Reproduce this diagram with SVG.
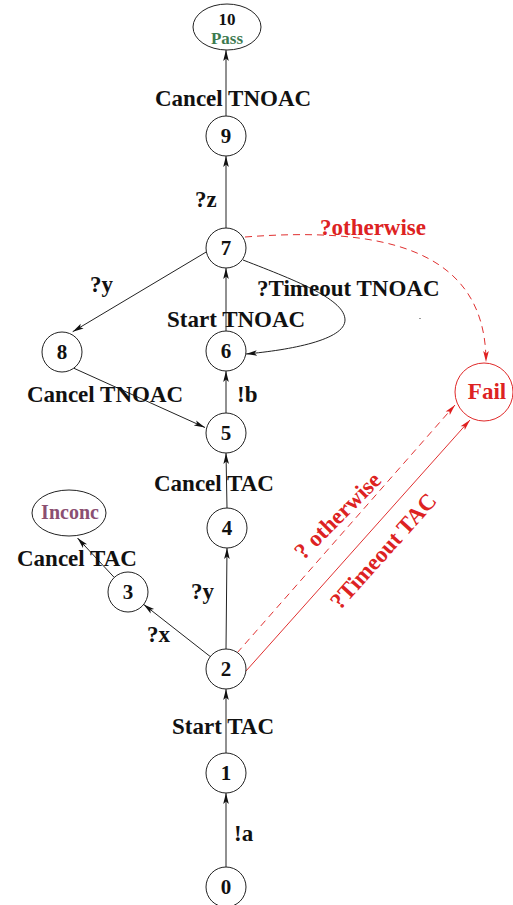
<svg xmlns="http://www.w3.org/2000/svg" width="513" height="905" viewBox="0 0 513 905">
<style>
.n{fill:#fff;stroke:#222;stroke-width:1}
.nf{fill:#fff;stroke:#e02828;stroke-width:1}
.t{font-family:"Liberation Serif","Times New Roman",serif;font-weight:bold;font-size:23px;fill:#111}
.num{font-family:"Liberation Serif","Times New Roman",serif;font-weight:bold;font-size:21px;fill:#111;text-anchor:middle}
.r{fill:#dd2222}
.e{fill:none;stroke:#222;stroke-width:1;marker-end:url(#ah)}
.er{fill:none;stroke:#e03030;stroke-width:1;marker-end:url(#ahr)}
.d{stroke-dasharray:7,5}
</style>
<defs>
<marker id="ah" markerUnits="userSpaceOnUse" viewBox="-12 -4 13 8" refX="0" refY="0" markerWidth="13" markerHeight="8" orient="auto">
<path d="M0,0 L-11,-2.8 L-8.5,0 L-11,2.8 Z" fill="#111"/>
</marker>
<marker id="ahr" markerUnits="userSpaceOnUse" viewBox="-12 -4 13 8" refX="0" refY="0" markerWidth="13" markerHeight="8" orient="auto">
<path d="M0,0 L-11,-2.8 L-8.5,0 L-11,2.8 Z" fill="#e02020"/>
</marker>
</defs>
<rect width="513" height="905" fill="#fff"/>
<g id="connectors">
<line class="e" x1="226" y1="867" x2="226" y2="793"/>
<line class="e" x1="226" y1="753" x2="226" y2="689"/>
<line class="e" x1="226" y1="649" x2="227" y2="548"/>
<line class="e" x1="210.3" y1="656.6" x2="143.7" y2="604.4"/>
<line class="e" x1="114.3" y1="577.5" x2="77.5" y2="538"/>
<line class="e" x1="227" y1="508" x2="226" y2="453"/>
<line class="e" x1="226" y1="413" x2="226" y2="371"/>
<line class="e" x1="226" y1="331" x2="226" y2="268"/>
<line class="e" x1="206.7" y1="251.7" x2="72.7" y2="331.7"/>
<line class="e" x1="74" y1="368.3" x2="205" y2="427.5"/>
<line class="e" x1="226" y1="228" x2="226" y2="156"/>
<line class="e" x1="226" y1="116" x2="226" y2="50"/>
<path class="e" d="M243,260 C300,282 345,300 345,320 C345,340 290,350 246,354"/>
<path class="er d" d="M245,237 C375,227 486,245 486,362"/>
<line class="er d" x1="237" y1="653" x2="455" y2="405"/>
<line class="er" x1="246" y1="671" x2="470" y2="420"/>
</g>
<g id="labels">
<text class="t" x="155" y="106">Cancel TNOAC</text>
<text class="t" x="195" y="207">?z</text>
<text class="t r" x="320" y="235">?otherwise</text>
<text class="t" x="90" y="292">?y</text>
<text class="t" x="257" y="296">?Timeout TNOAC</text>
<text class="t" x="167" y="327">Start TNOAC</text>
<text class="t" x="27" y="402">Cancel TNOAC</text>
<text class="t" x="237" y="402">!b</text>
<text class="t" x="154" y="491">Cancel TAC</text>
<text class="t" x="17" y="566">Cancel TAC</text>
<text class="t" x="191" y="599">?y</text>
<text class="t" x="147" y="642">?x</text>
<text class="t" x="172" y="734">Start TAC</text>
<text class="t" x="234" y="841">!a</text>
<text class="t r" x="343" y="521" text-anchor="middle" transform="rotate(-45 343 521)">? otherwise</text>
<text class="t r" x="389" y="556" text-anchor="middle" transform="rotate(-48 389 556)">?Timeout TAC</text>
<circle cx="420" cy="318.5" r="0.6" fill="#222"/>
</g>
<g id="n10"><ellipse class="n" cx="227" cy="27" rx="34" ry="23"/><text class="num" x="227" y="25" style="font-size:17px">10</text><text class="num" x="227" y="44" style="font-size:17px;fill:#3d7a50">Pass</text></g>
<g id="n9"><circle class="n" cx="226" cy="136" r="20"/><text class="num" x="226" y="143">9</text></g>
<g id="n7"><circle class="n" cx="226" cy="248" r="20"/><text class="num" x="226" y="255">7</text></g>
<g id="n8"><circle class="n" cx="62" cy="352" r="20"/><text class="num" x="62" y="359">8</text></g>
<g id="n6"><circle class="n" cx="226" cy="351" r="20"/><text class="num" x="226" y="358">6</text></g>
<g id="n5"><circle class="n" cx="226" cy="433" r="20"/><text class="num" x="226" y="440">5</text></g>
<g id="n4"><circle class="n" cx="227" cy="528" r="20"/><text class="num" x="227" y="535">4</text></g>
<g id="n3"><circle class="n" cx="128" cy="592" r="20"/><text class="num" x="128" y="599">3</text></g>
<g id="inconc"><ellipse class="n" cx="69" cy="513" rx="37" ry="23"/><text class="num" x="70" y="519" style="font-size:20px;fill:#8b4f72">Inconc</text></g>
<g id="n2"><circle class="n" cx="226" cy="669" r="20"/><text class="num" x="226" y="676">2</text></g>
<g id="n1"><circle class="n" cx="226" cy="773" r="20"/><text class="num" x="226" y="780">1</text></g>
<g id="n0"><circle class="n" cx="226" cy="887" r="20"/><text class="num" x="226" y="894">0</text></g>
<g id="fail"><circle class="nf" cx="484" cy="392" r="29"/><text class="t r" x="487" y="399" text-anchor="middle">Fail</text></g>
</svg>
